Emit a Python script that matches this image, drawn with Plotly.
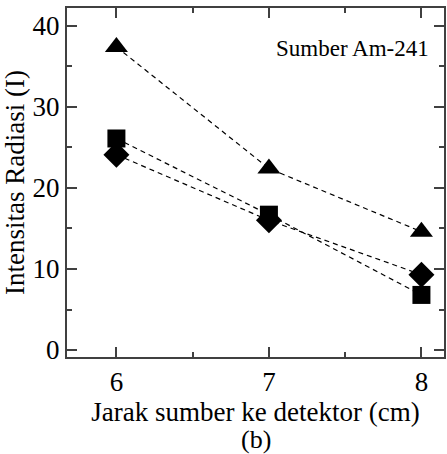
import plotly.graph_objects as go

distance = [6, 7, 8]
triangle_vals = [37.4, 22.4, 14.6]
square_vals = [26.1, 16.7, 6.8]
diamond_vals = [24.1, 16.0, 9.3]

y_ticks = [0, 10, 20, 30, 40]
x_ticks = [6, 7, 8]

font_family = "'Liberation Serif', 'Times New Roman', Times, serif"

fig = go.Figure()
series = [
    (triangle_vals, "triangle-up", 20),
    (square_vals, "square", 18),
    (diamond_vals, "diamond", 20),
]
for vals, sym, sz in series:
    fig.add_trace(go.Scatter(
        x=distance, y=vals, mode="lines+markers",
        line=dict(color="black", width=1.2, dash="5px,4px"),
        marker=dict(symbol=sym, size=sz, color="black", line=dict(width=0)),
        showlegend=False,
    ))

fig.add_annotation(
    x=0.965, y=0.885, xref="paper", yref="paper", text="Sumber Am-241",
    xanchor="right", yanchor="middle",
    showarrow=False, font=dict(family=font_family, size=23, color="black"),
)
fig.add_annotation(
    x=0.5, y=-0.237, xref="paper", yref="paper", text="(b)",
    xanchor="center", yanchor="middle",
    showarrow=False, font=dict(family=font_family, size=26, color="black"),
)

axis_common = dict(
    showline=True, linecolor="#404040", linewidth=2, mirror="ticks",
    ticks="inside", ticklen=10, tickwidth=1.5, tickcolor="#404040",
    showgrid=False, zeroline=False,
    tickfont=dict(family=font_family, size=27, color="black"),
)

fig.update_xaxes(
    **axis_common,
    range=[5.676, 8.148], tickvals=x_ticks,
    minor=dict(dtick=0.5, tick0=6, ticks="inside", ticklen=5, tickwidth=1.5, tickcolor="#404040"),
    title=dict(text="Jarak sumber ke detektor (cm)", font=dict(family=font_family, size=27, color="black"), standoff=6),
)
fig.update_yaxes(
    **axis_common,
    range=[-0.86, 42.2], tickvals=y_ticks,
    minor=dict(dtick=5, tick0=0, ticks="inside", ticklen=5, tickwidth=1.5, tickcolor="#404040"),
    title=dict(text="Intensitas Radiasi (I)", font=dict(family=font_family, size=27, color="black"), standoff=4),
)

fig.update_layout(
    width=447, height=454,
    margin=dict(l=67, r=1, t=8, b=97),
    plot_bgcolor="white", paper_bgcolor="white",
    font=dict(family=font_family),
)

fig.write_html("out.html")
